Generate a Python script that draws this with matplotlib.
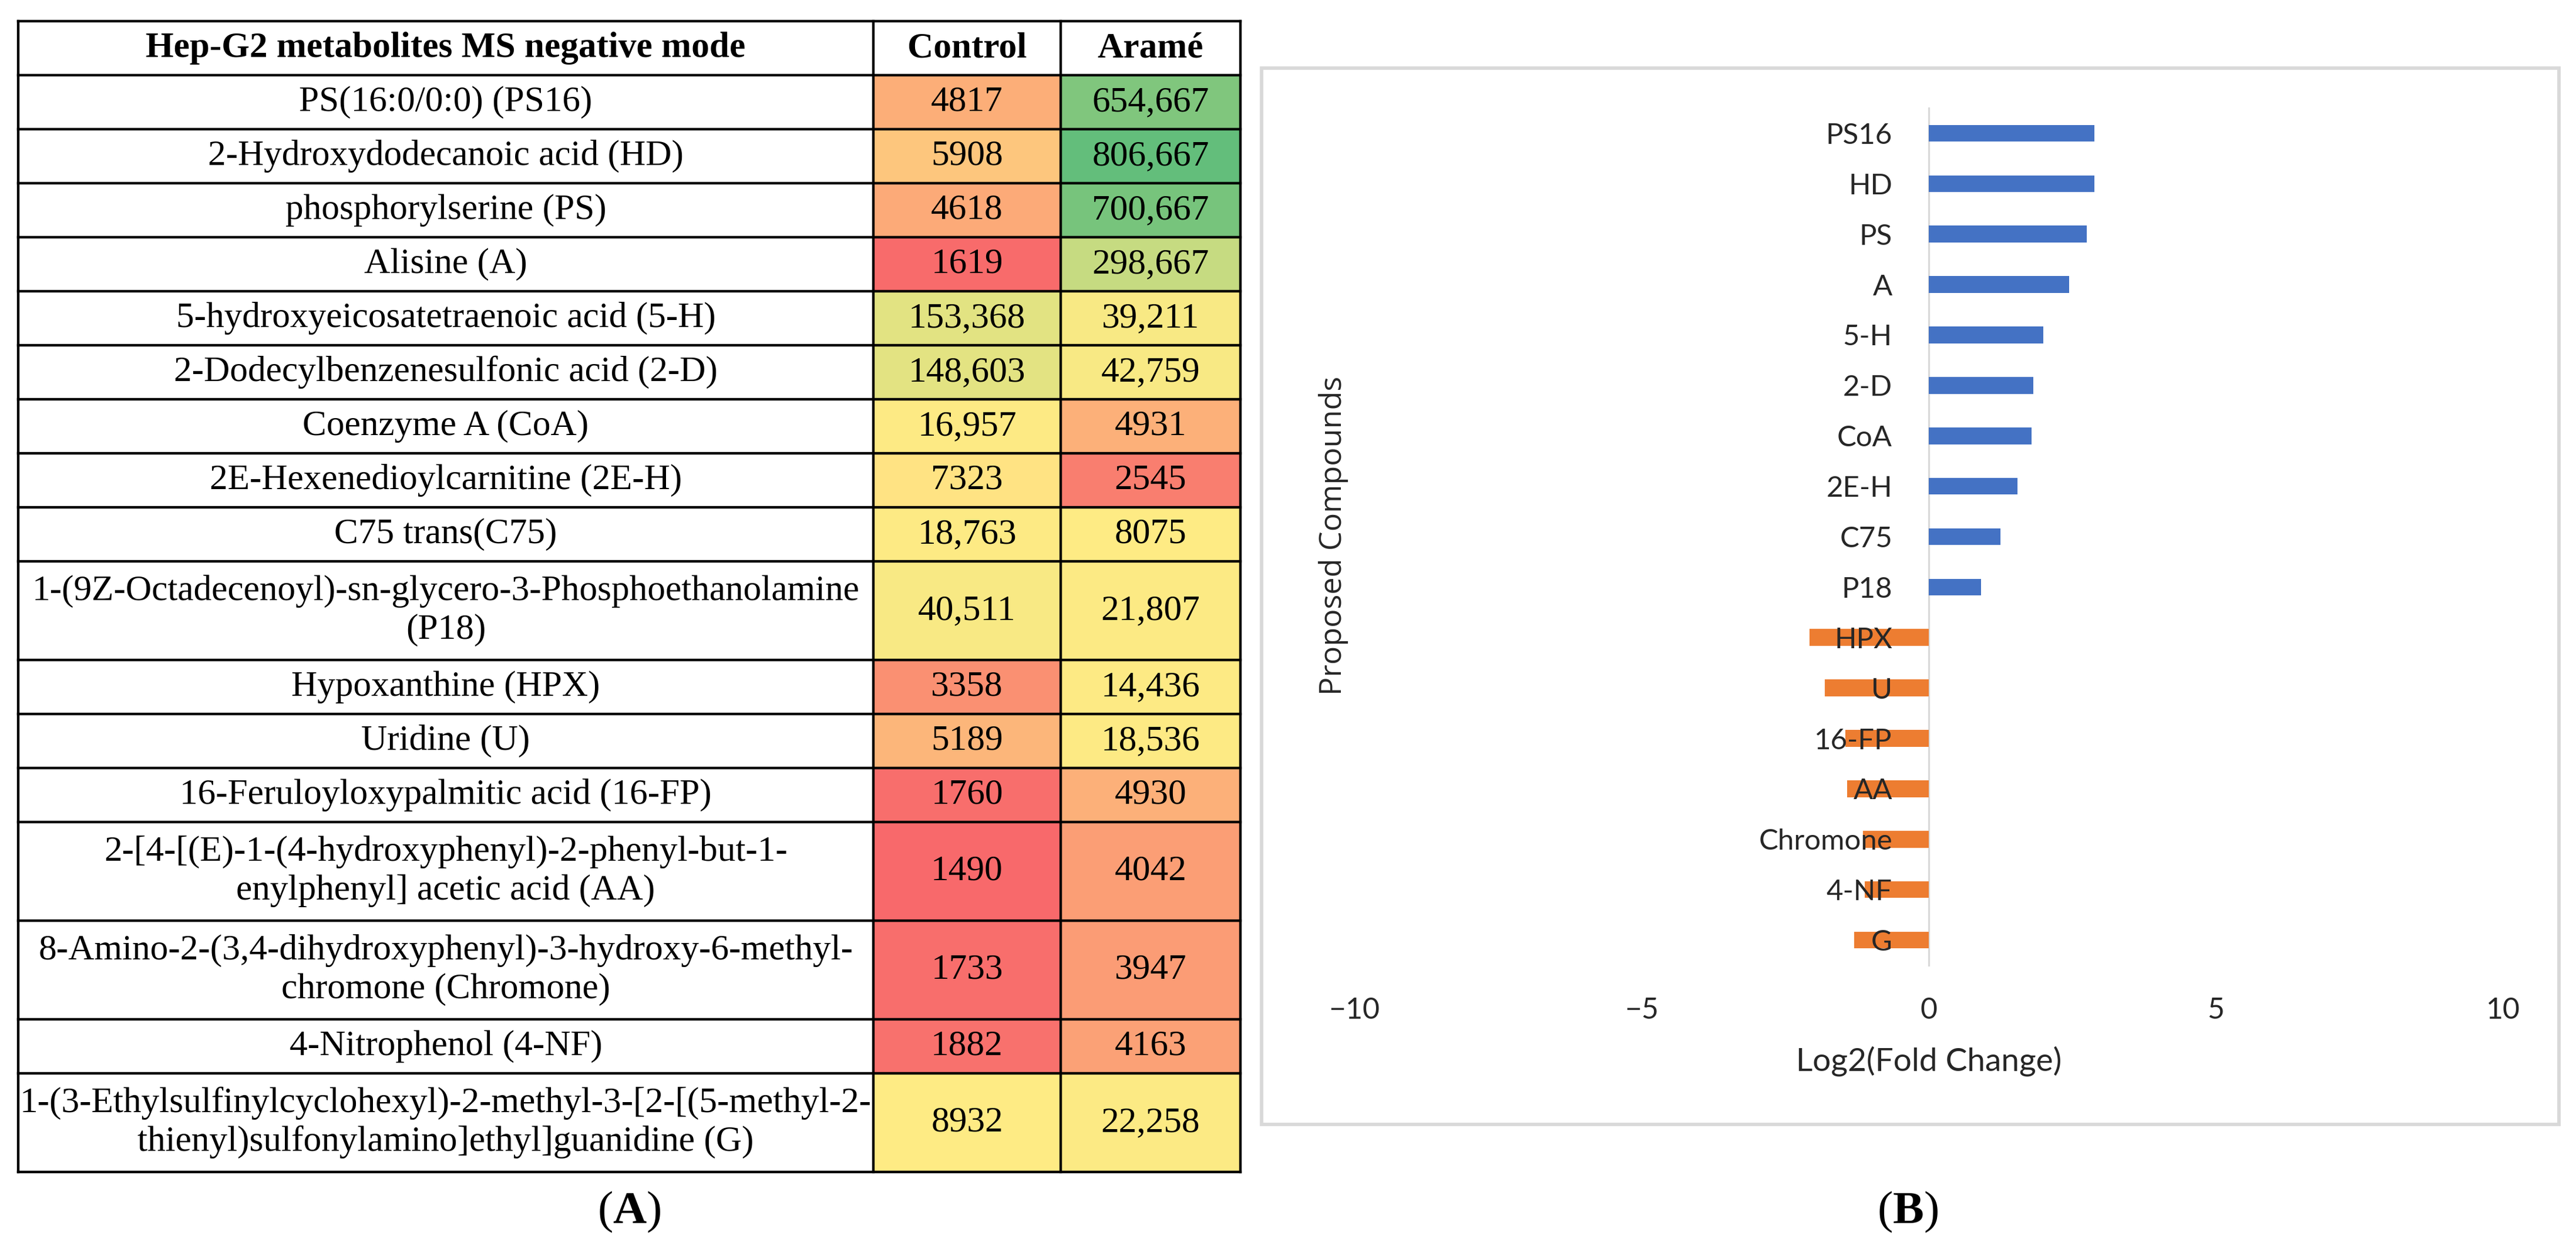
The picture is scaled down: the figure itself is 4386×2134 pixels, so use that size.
import numpy as np
import matplotlib
matplotlib.use("Agg")
import matplotlib.pyplot as plt
from matplotlib.colors import LinearSegmentedColormap, TwoSlopeNorm
from matplotlib.patches import Rectangle

# ---------------- data ----------------
header = ["Hep-G2 metabolites MS negative mode", "Control", "Aramé"]
compound_names = [
    "PS(16:0/0:0) (PS16)",
    "2-Hydroxydodecanoic acid (HD)",
    "phosphorylserine (PS)",
    "Alisine (A)",
    "5-hydroxyeicosatetraenoic acid (5-H)",
    "2-Dodecylbenzenesulfonic acid (2-D)",
    "Coenzyme A (CoA)",
    "2E-Hexenedioylcarnitine (2E-H)",
    "C75 trans(C75)",
    "1-(9Z-Octadecenoyl)-sn-glycero-3-Phosphoethanolamine\n(P18)",
    "Hypoxanthine (HPX)",
    "Uridine (U)",
    "16-Feruloyloxypalmitic acid (16-FP)",
    "2-[4-[(E)-1-(4-hydroxyphenyl)-2-phenyl-but-1-\nenylphenyl] acetic acid (AA)",
    "8-Amino-2-(3,4-dihydroxyphenyl)-3-hydroxy-6-methyl-\nchromone (Chromone)",
    "4-Nitrophenol (4-NF)",
    "1-(3-Ethylsulfinylcyclohexyl)-2-methyl-3-[2-[(5-methyl-2-\nthienyl)sulfonylamino]ethyl]guanidine (G)",
]
control = [4817, 5908, 4618, 1619, 153368, 148603, 16957, 7323, 18763,
           40511, 3358, 5189, 1760, 1490, 1733, 1882, 8932]
arame = [654667, 806667, 700667, 298667, 39211, 42759, 4931, 2545, 8075,
         21807, 14436, 18536, 4930, 4042, 3947, 4163, 22258]

short_names = ["PS16", "HD", "PS", "A", "5-H", "2-D", "CoA", "2E-H", "C75",
               "P18", "HPX", "U", "16-FP", "AA", "Chromone", "4-NF", "G"]
log2_fc = [2.88, 2.88, 2.75, 2.44, 1.99, 1.82, 1.79, 1.54, 1.25, 0.91,
           -2.08, -1.81, -1.45, -1.42, -1.15, -1.11, -1.30]
x_ticks = [-10, -5, 0, 5, 10]

# ---------------- figure ----------------
plt.rcParams['mathtext.fontset'] = 'custom'
plt.rcParams['mathtext.rm'] = 'Liberation Serif'
plt.rcParams['mathtext.bf'] = 'Liberation Serif:bold'

W, H, DPI = 4386, 2134, 300
fig = plt.figure(figsize=(W / DPI, H / DPI), dpi=DPI)
fig.patch.set_facecolor('white')


def fx(x):
    return x / W


def fy(y):
    return 1 - y / H


SERIF = ['Liberation Serif', 'DejaVu Serif']

# ---------------- table (A) ----------------
tx0, tx1, ty0, ty1 = 31, 2112, 36, 1996
col_edges = [31, 1487, 1806, 2112]
ax_t = fig.add_axes([fx(tx0), fy(ty1), (tx1 - tx0) / W, (ty1 - ty0) / H])
ax_t.set_xlim(tx0, tx1)
ax_t.set_ylim(ty1, ty0)
ax_t.axis('off')

nlines = [n.count('\n') + 1 for n in compound_names]
rel = [1.0] + [1.0 if k == 1 else 1.826 for k in nlines]
unit = (ty1 - ty0) / sum(rel)
edges = ty0 + np.concatenate([[0], np.cumsum(np.array(rel) * unit)])

cmap = LinearSegmentedColormap.from_list('excel', ['#F8696B', '#FFEB84', '#63BE7B'])
all_vals = np.array(control + arame, dtype=float)
norm = TwoSlopeNorm(vmin=all_vals.min(), vcenter=np.percentile(all_vals, 50),
                    vmax=all_vals.max())


def fmt(v):
    return f"{v:,}" if v >= 10000 else str(v)


FS = 14.7
# header
for j, txt in enumerate(header):
    ax_t.text((col_edges[j] + col_edges[j + 1]) / 2, (edges[0] + edges[1]) / 2, txt,
              ha='center', va='center', fontsize=FS, fontweight='bold', family=SERIF)

for i, name in enumerate(compound_names):
    top, bot = edges[i + 1], edges[i + 2]
    cy = (top + bot) / 2
    for j, v in enumerate([control[i], arame[i]]):
        x0, x1 = col_edges[j + 1], col_edges[j + 2]
        ax_t.add_patch(Rectangle((x0, top), x1 - x0, bot - top,
                                 facecolor=cmap(norm(v)), edgecolor='none', zorder=1))
        ax_t.text((x0 + x1) / 2, cy, fmt(v), ha='center', va='center',
                  fontsize=FS, family=SERIF, zorder=3)
    ax_t.text((col_edges[0] + col_edges[1]) / 2, cy, name, ha='center', va='center',
              fontsize=FS, family=SERIF, linespacing=1.22, zorder=3)

LW = 1.05
for yv in edges:
    ax_t.plot([tx0, tx1], [yv, yv], color='black', lw=LW, solid_capstyle='projecting',
              clip_on=False, zorder=4)
for xv in col_edges:
    ax_t.plot([xv, xv], [ty0, ty1], color='black', lw=LW, solid_capstyle='projecting',
              clip_on=False, zorder=4)

# ---------------- bar chart (B) ----------------
fig.add_artist(Rectangle((fx(2148), fy(1915)), (4357 - 2148) / W, (1915 - 116) / H,
                         transform=fig.transFigure, fill=False,
                         edgecolor='#D9D9D9', lw=1.4))

ax_b = fig.add_axes([fx(2306), fy(1644), 1956 / W, 1460 / H])
ypos = np.arange(len(short_names))
bar_colors = ['#4472C4' if v > 0 else '#ED7D31' for v in log2_fc]
ax_b.barh(ypos, log2_fc, height=0.333, color=bar_colors, zorder=1)
ax_b.set_xlim(x_ticks[0], x_ticks[-1])
ax_b.set_ylim(len(short_names) - 0.5, -0.5)
ax_b.set_yticks(ypos)
ax_b.set_yticklabels(short_names)
ax_b.set_xticks(x_ticks)
for s in ['top', 'right', 'bottom']:
    ax_b.spines[s].set_visible(False)
ax_b.spines['left'].set_position(('data', 0))
ax_b.spines['left'].set_color('#D9D9D9')
ax_b.spines['left'].set_linewidth(0.75)
ax_b.spines['left'].set_zorder(0.5)
ax_b.set_facecolor('none')

TXT = '#262626'
ax_b.tick_params(axis='y', length=0, pad=14.9, labelsize=11.8, labelcolor=TXT)
ax_b.tick_params(axis='x', length=0, pad=13, labelsize=12, labelcolor=TXT)
for lab in ax_b.get_yticklabels() + ax_b.get_xticklabels():
    lab.set_family(['Lato', 'DejaVu Sans'])

ax_b.set_xlabel('Log2(Fold Change)', fontsize=13.2, family=['Lato', 'DejaVu Sans'], color=TXT)
ax_b.xaxis.set_label_coords(0.5, -0.1116)
ax_b.xaxis.label.set_va('center')
ax_b.set_ylabel('Proposed Compounds', fontsize=12.5, family=['Open Sans', 'DejaVu Sans'],
                color=TXT)
ax_b.yaxis.set_label_coords(-0.0179, 0.501)
ax_b.yaxis.label.set_va('center')

# ---------------- panel labels ----------------
fig.text(fx(1071), fy(2064), r'($\mathbf{A}$)', ha='center', va='center',
         fontsize=19, family=SERIF)
fig.text(fx(3248), fy(2064), r'($\mathbf{B}$)', ha='center', va='center',
         fontsize=19, family=SERIF)

fig.savefig('out.png', dpi=DPI, facecolor='white')
